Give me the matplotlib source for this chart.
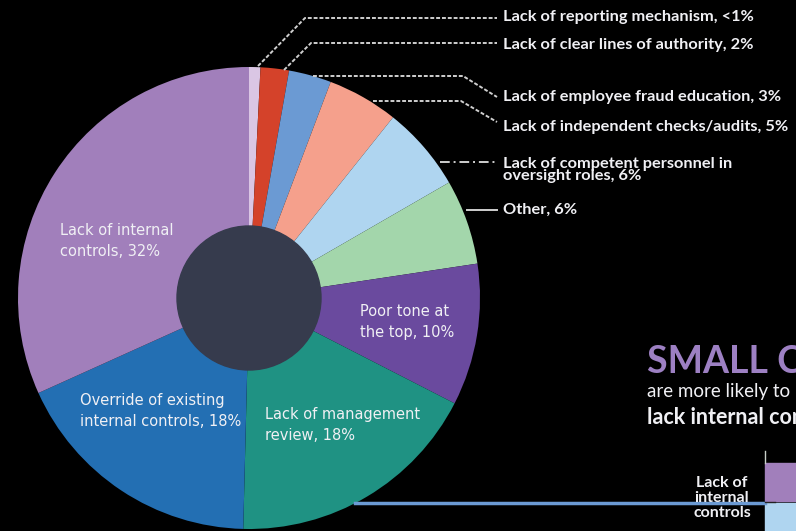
import matplotlib
matplotlib.use("Agg")
import matplotlib.pyplot as plt
from matplotlib.patches import Circle, Rectangle

# ------------------------------------------------------------------------
# DATA
# ------------------------------------------------------------------------
weaknesses = [
    "Lack of reporting mechanism",
    "Lack of clear lines of authority",
    "Lack of employee fraud education",
    "Lack of independent checks/audits",
    "Lack of competent personnel in oversight roles",
    "Other",
    "Poor tone at the top",
    "Lack of management review",
    "Override of existing internal controls",
    "Lack of internal controls",
]
shares = [0.8, 2, 3, 5, 6, 6, 10, 18, 18, 32]
slice_colors = ["#dac6e4", "#d4422a", "#6b9ad3", "#f5a08c", "#afd5f0",
                "#a3d6ab", "#6a4a9e", "#1f9283", "#236fb3", "#a17fbb"]

outside_labels = [
    "Lack of reporting mechanism, <1%",
    "Lack of clear lines of authority, 2%",
    "Lack of employee fraud education, 3%",
    "Lack of independent checks/audits, 5%",
    "Lack of competent personnel in\noversight roles, 6%",
    "Other, 6%",
]
inside_labels = {
    "Poor tone at the top": "Poor tone at\nthe top, 10%",
    "Lack of management review": "Lack of management\nreview, 18%",
    "Override of existing internal controls": "Override of existing\ninternal controls, 18%",
    "Lack of internal controls": "Lack of internal\ncontrols, 32%",
}

# ------------------------------------------------------------------------
# LAYOUT (pixel coordinates, y measured from the top)
# ------------------------------------------------------------------------
W, H = 796, 531
BG = "#000000"
CX, CY, R = 249, 298, 231
HOLE_R = 72

def Y(y):
    return H - y

fig = plt.figure(figsize=(W / 100, H / 100), dpi=100, facecolor=BG)
ax = fig.add_axes([0, 0, 1, 1])
ax.set_facecolor(BG)

wedges, _ = ax.pie(shares, colors=slice_colors, startangle=90, counterclock=False,
                   center=(CX, Y(CY)), radius=R,
                   wedgeprops={"linewidth": 0})
ax.add_patch(Circle((CX, Y(CY)), HOLE_R, color="#363b4d", zorder=3))

ax.set_xlim(0, W)
ax.set_ylim(0, H)
ax.set_aspect("equal")
ax.axis("off")

narrow = ["Lato", "DejaVu Sans"]
txt_col = "#f0f0f4"

# leader lines: (points along the path), linestyle
leaders = [
    ([(258, 66), (305, 18), (497, 18)], (0, (2, 1))),
    ([(284, 70), (311, 43), (497, 43)], (0, (2, 1))),
    ([(313, 76), (463, 76), (497, 97)], (0, (2, 1))),
    ([(373, 101), (461, 101), (497, 122)], (0, (2, 1))),
    ([(440, 162), (497, 162)], (0, (5, 2, 1, 2))),
    ([(467, 210), (497, 210)], "-"),
]
label_y = [17, 45, 97, 127, 170, 210]
for (pts, ls), lab, ly in zip(leaders, outside_labels, label_y):
    xs = [p[0] for p in pts]
    ys = [Y(p[1]) for p in pts]
    ax.plot(xs, ys, color="#cfcfcf", lw=1.4, ls=ls, zorder=4)
    ax.text(503, Y(ly), lab, color=txt_col, fontsize=11.8, fontweight="bold",
            family=narrow, va="center", ha="left", linespacing=0.9)

inside_pos = {
    "Lack of internal controls": (60, 241),
    "Override of existing internal controls": (80, 411),
    "Lack of management review": (265, 425),
    "Poor tone at the top": (360, 322),
}
for name, (tx, ty) in inside_pos.items():
    ax.text(tx, Y(ty), inside_labels[name], color=txt_col, fontsize=10.5,
            va="center", ha="left", linespacing=1.45, zorder=5)

# side panel: small companies teaser
ax.text(647, Y(362), "SMALL COMPANIES", color="#9d80c3", fontsize=27,
        fontweight="bold", family=narrow, va="center", ha="left")
ax.text(647, Y(392), "are more likely to", color=txt_col, fontsize=13.5,
        family=narrow, va="center", ha="left")
ax.text(647, Y(417), "lack internal controls", color=txt_col, fontsize=15.5,
        fontweight="bold", family=narrow, va="center", ha="left")

bar_x = 765
ax.add_patch(Rectangle((bar_x, Y(501)), 60, 38, color="#a17fbb", zorder=2))
ax.add_patch(Rectangle((bar_x, 0), 60, Y(503), color="#afd5f0", zorder=2))
ax.plot([355, bar_x], [Y(503), Y(503)], color="#6b9ad3", lw=2.5, zorder=2)
ax.plot([bar_x, bar_x], [Y(451), Y(463)], color="#c8d0c8", lw=1, zorder=2)
ax.plot([bar_x, bar_x + 10], [Y(502), Y(502)], color="#222222", lw=1, zorder=3)
ax.text(722, Y(498), "Lack of\ninternal\ncontrols", color=txt_col, fontsize=11.5,
        fontweight="bold", family=narrow, va="center", ha="center",
        linespacing=1.1, zorder=4)

fig.savefig("out.png", dpi=100, facecolor=BG)
